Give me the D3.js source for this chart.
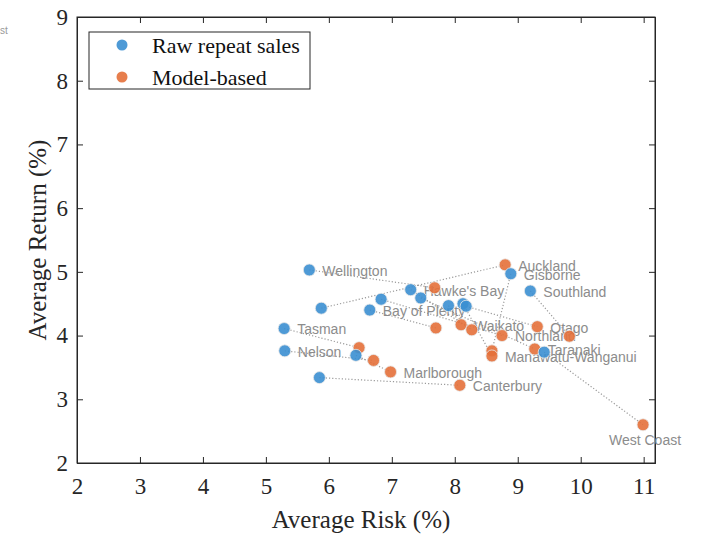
<!DOCTYPE html>
<html>
<head>
<meta charset="utf-8">
<script src="https://cdn.jsdelivr.net/npm/d3@7"></script>
<style>
  html, body { margin: 0; padding: 0; background: #fff; }
  svg { display: block; }
</style>
</head>
<body>
<svg id="chart" width="701" height="535"></svg>
<script>
// ---- Data ----
const regions = ["Northland", "Auckland", "Waikato", "Bay of Plenty", "Gisborne", "Hawke's Bay",
  "Taranaki", "Manawatu-Wanganui", "Wellington", "Tasman", "Nelson", "Marlborough",
  "West Coast", "Canterbury", "Otago", "Southland"];
const rawRisk     = [6.83, 5.88, 7.90, 6.65, 8.89, 7.30, 7.46, 8.13, 5.69, 5.29, 5.30, 6.43, 9.42, 5.85, 8.18, 9.20];
const rawReturn   = [4.57, 4.43, 4.47, 4.40, 4.97, 4.72, 4.59, 4.50, 5.03, 4.11, 3.76, 3.69, 3.74, 3.34, 4.46, 4.70];
const modelRisk   = [8.75, 8.80, 8.10, 7.70, 8.59, 8.27, 9.27, 8.59, 7.68, 6.48, 6.71, 6.98, 10.99, 8.08, 9.31, 9.82];
const modelReturn = [4.00, 5.11, 4.17, 4.12, 3.76, 4.09, 3.79, 3.68, 4.75, 3.81, 3.61, 3.43, 2.60, 3.22, 4.14, 3.99];
const labelOn     = ["model", "model", "model", "raw", "raw", "raw", "model", "model",
  "raw", "raw", "raw", "model", "model", "model", "model", "raw"];
const seriesNames = ["Raw repeat sales", "Model-based"];
const xTicks = [2, 3, 4, 5, 6, 7, 8, 9, 10, 11];
const yTicks = [2, 3, 4, 5, 6, 7, 8, 9];

(function () {
// ---- Layout ----
const svg = d3.select("#chart");
const L = 77, R = 655, T = 17, B = 463;
const x = d3.scaleLinear().domain([2, 11.18]).range([L, R]);
const y = d3.scaleLinear().domain([2, 9]).range([B, T]);
const blue = "#3b8fd2", orange = "#e4703a";
const axisColor = "#262626";
const serif = "'Liberation Serif', 'Times New Roman', serif";
const sans = "'Liberation Sans', Arial, sans-serif";

// stray clipped label at top-left
svg.append("text").attr("x", 0).attr("y", 34).attr("font-family", sans)
  .attr("font-size", 10).attr("fill", "#999").text("st");

// frame
svg.append("rect").attr("x", L).attr("y", T).attr("width", R - L).attr("height", B - T)
  .attr("fill", "none").attr("stroke", axisColor).attr("stroke-width", 1);

// axes with inward ticks on all sides
const tickLen = 6;
const gBottom = svg.append("g").attr("transform", `translate(0,${B})`)
  .call(d3.axisBottom(x).tickValues(xTicks).tickSize(-tickLen).tickPadding(15).tickFormat(d3.format("d")));
const gLeft = svg.append("g").attr("transform", `translate(${L},0)`)
  .call(d3.axisLeft(y).tickValues(yTicks).tickSize(-tickLen).tickPadding(9).tickFormat(d3.format("d")));
const gTop = svg.append("g").attr("transform", `translate(0,${T})`)
  .call(d3.axisTop(x).tickValues(xTicks).tickSize(-tickLen).tickFormat(""));
const gRight = svg.append("g").attr("transform", `translate(${R},0)`)
  .call(d3.axisRight(y).tickValues(yTicks).tickSize(-tickLen).tickFormat(""));
[gBottom, gLeft, gTop, gRight].forEach(g => {
  g.select(".domain").attr("stroke", axisColor);
  g.selectAll(".tick line").attr("stroke", axisColor);
  g.selectAll(".tick text").attr("fill", axisColor).attr("font-family", serif).attr("font-size", 23);
});

// axis titles
svg.append("text").attr("x", (L + R) / 2 - 5).attr("y", 528).attr("text-anchor", "middle")
  .attr("font-family", serif).attr("font-size", 25).attr("fill", axisColor).text("Average Risk (%)");
svg.append("text").attr("transform", `translate(46,${(T + B) / 2}) rotate(-90)`).attr("text-anchor", "middle")
  .attr("font-family", serif).attr("font-size", 25).attr("fill", axisColor).text("Average Return (%)");

// connectors
const idx = d3.range(regions.length);
svg.append("g").selectAll("line").data(idx).join("line")
  .attr("x1", i => x(rawRisk[i])).attr("y1", i => y(rawReturn[i]))
  .attr("x2", i => x(modelRisk[i])).attr("y2", i => y(modelReturn[i]))
  .attr("stroke", "#9a9a9a").attr("stroke-width", 1.2).attr("stroke-dasharray", "1.2,2");

// labels
svg.append("g").selectAll("text").data(idx).join("text")
  .attr("x", i => {
    const px = labelOn[i] === "raw" ? x(rawRisk[i]) : x(modelRisk[i]);
    return regions[i] === "West Coast" ? px + 2 : px + 13;
  })
  .attr("y", i => {
    const py = labelOn[i] === "raw" ? y(rawReturn[i]) : y(modelReturn[i]);
    return regions[i] === "West Coast" ? py + 15 : py + 1;
  })
  .attr("dy", "0.35em")
  .attr("text-anchor", i => regions[i] === "West Coast" ? "middle" : "start")
  .attr("font-family", sans).attr("font-size", 14).attr("fill", "#8c8c8c")
  .text(i => regions[i]);

// points
const pts = svg.append("g");
pts.selectAll("circle.m").data(idx).join("circle").attr("class", "m")
  .attr("cx", i => x(modelRisk[i])).attr("cy", i => y(modelReturn[i])).attr("r", 6)
  .attr("fill", orange).attr("fill-opacity", 0.9).attr("stroke", "#e8e8e8").attr("stroke-width", 0.8);
pts.selectAll("circle.r").data(idx).join("circle").attr("class", "r")
  .attr("cx", i => x(rawRisk[i])).attr("cy", i => y(rawReturn[i])).attr("r", 6)
  .attr("fill", blue).attr("fill-opacity", 0.9).attr("stroke", "#e8e8e8").attr("stroke-width", 0.8);

// legend
const lg = svg.append("g");
lg.append("rect").attr("x", 89).attr("y", 32).attr("width", 221).attr("height", 57)
  .attr("fill", "#fff").attr("stroke", axisColor).attr("stroke-width", 1);
const legendColors = [blue, orange];
lg.selectAll("circle").data(seriesNames).join("circle")
  .attr("cx", 122).attr("cy", (d, i) => 45 + i * 32).attr("r", 5.5)
  .attr("fill", (d, i) => legendColors[i]).attr("fill-opacity", 0.9);
lg.selectAll("text").data(seriesNames).join("text")
  .attr("x", 152).attr("y", (d, i) => 45 + i * 32).attr("dy", "0.35em")
  .attr("font-family", serif).attr("font-size", 22).attr("fill", "#111").text(d => d);
})();
</script>
</body>
</html>
